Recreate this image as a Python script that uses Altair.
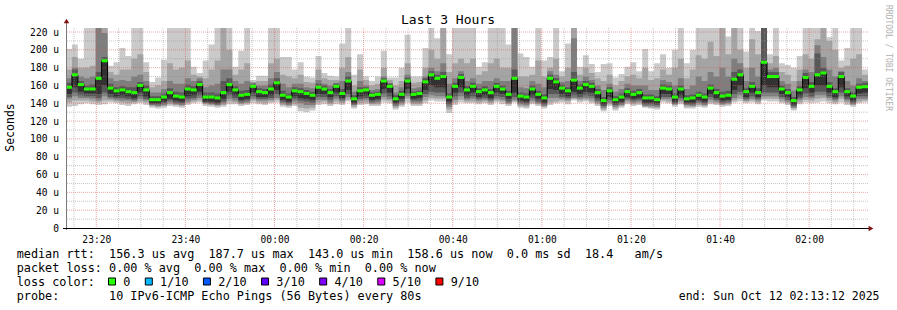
import altair as alt
import pandas as pd

# ---------------- time axis (minutes relative to 00:00) ----------------
START = -46.8          # 23:13:12
END = 133.2            # 02:13:12
STEP = 80 / 60         # one round of pings every 80 s

x_tick_vals = [-40, -20, 0, 20, 40, 60, 80, 100, 120]
x_tick_labels = ["23:20", "23:40", "00:00", "00:20", "00:40", "01:00", "01:20", "01:40", "02:00"]
y_tick_vals = [0, 20, 40, 60, 80, 100, 120, 140, 160, 180, 200, 220]
y_tick_labels = ["0", "20 u", "40 u", "60 u", "80 u", "100 u", "120 u", "140 u",
                 "160 u", "180 u", "200 u", "220 u"]

# ---------------- data (microseconds) ----------------
med = [158,172,161,156,156,168,187.7,157,154,155,
       153,152,160,155,144,144,147,152,148,147,
       156,155,161,147,147,146,152,161,155,149,
       150,159,153,152,156,163,149,147,154,153,
       151,149,158,156,152,159,151,165,145,154,
       155,149,150,165,159,145,150,165,150,151,
       164,172,168,170,147,159,169,155,159,153,
       155,152,159,156,150,168,148,147,156,150,
       146,168,164,157,154,166,157,161,159,152,
       143.0,154,144,147,153,150,152,146,146,144,
       157,156,147,156,145,146,149,147,157,152,
       148,149,167,172,153,159,152,186,170,170,
       156,152,143,155,169,159,172,174,159,153,
       170,153,148,158,158.6]
d_lo = [150,158,153,151,151,150,160,150,148,149,
        148,146,152,148,140,140,142,145,143,142,
        148,149,153,142,142,141,145,153,149,144,
        145,152,147,147,149,155,144,142,148,146,
        145,144,150,150,147,152,146,155,141,148,
        149,144,145,156,152,141,145,156,145,146,
        155,160,158,158,142,152,158,149,152,147,
        149,146,152,150,145,152,143,142,149,145,
        141,156,155,150,148,153,150,153,152,146,
        139,147,140,142,147,145,146,141,141,140,
        150,150,142,149,141,141,144,142,150,146,
        143,144,155,160,147,152,147,160,158,158,
        150,147,139,149,157,152,160,160,152,147,
        158,148,143,151,152]
c_lo = [147,152,149,148,148,146,152,147,146,146,
        145,144,148,145,139,139,140,143,141,140,
        145,146,149,141,140,139,142,149,146,142,
        143,148,145,145,146,150,142,140,145,143,
        142,141,147,147,144,148,144,150,139,145,
        146,142,143,151,148,139,142,151,143,143,
        150,153,152,152,139,148,152,146,148,145,
        146,144,148,147,142,147,141,140,146,142,
        139,150,150,147,146,149,147,149,148,143,
        137,144,138,140,145,143,144,139,139,138,
        147,147,140,146,139,139,142,140,147,144,
        141,142,150,153,145,148,145,152,152,152,
        147,144,137,146,151,148,153,153,148,145,
        152,145,141,148,148]
lo3 = [145,148,146,146,145,143,148,145,144,143,
       143,142,145,143,138,137,138,141,139,138,
       142,144,146,140,139,138,140,145,143,140,
       141,145,143,143,144,146,140,138,142,140,
       138,138,144,144,141,145,142,147,138,143,
       144,140,141,147,145,137,140,148,141,141,
       147,149,148,148,136,144,148,144,145,143,
       144,142,145,144,140,144,139,138,143,140,
       137,146,146,145,144,146,145,146,145,141,
       135,141,136,138,143,141,142,137,137,136,
       145,145,139,143,138,137,140,138,144,142,
       139,140,146,149,143,145,143,148,148,148,
       145,142,135,144,147,146,149,149,146,143,
       148,143,139,145,145]
lo2 = [141,143,143,143,142,141,143,143,142,141,
       140,141,142,141,137,136,137,139,138,137,
       140,142,143,139,138,137,138,142,141,139,
       140,143,141,140,142,144,138,137,139,135,
       134,135,141,142,139,142,140,144,136,140,
       141,139,139,144,143,135,138,145,139,139,
       143,146,145,145,133,141,144,142,142,141,
       142,140,143,142,139,142,137,136,141,139,
       136,141,142,143,142,145,143,144,142,139,
       133,139,134,137,141,139,140,136,135,135,
       143,142,138,141,136,136,138,137,141,140,
       138,139,143,145,142,143,141,145,145,145,
       142,140,134,141,144,143,145,146,143,141,
       145,141,138,142,143]
lo = [136,137,139,140,139,138,139,141,140,138,
      137,139,140,138,135,134,135,137,136,135,
      138,140,141,137,136,135,136,139,139,137,
      138,140,139,138,140,141,136,135,137,131,
      130,132,138,139,137,139,138,142,134,138,
      139,137,137,141,140,133,136,141,137,137,
      140,143,142,142,129,138,141,140,140,139,
      140,138,141,139,137,141,135,134,139,137,
      134,138,140,141,139,143,141,142,140,137,
      131,137,132,135,139,137,138,135,134,133,
      141,140,136,139,134,134,136,135,139,138,
      136,137,141,142,140,141,139,143,142,142,
      140,138,132,139,141,140,141,142,140,139,
      141,138,136,140,141]
c_hi = [163,178,165,160,161,175,192,162,158,159,
        158,158,164,160,148,148,151,157,153,152,
        161,159,165,152,152,151,165,168,159,154,
        155,161,157,156,161,168,154,151,158,157,
        155,153,162,160,156,162,156,170,149,158,
        158,152,153,168,162,149,154,169,153,154,
        168,176,172,175,151,163,173,159,163,157,
        159,156,163,160,154,178,152,151,160,154,
        150,172,168,161,158,175,161,165,163,156,
        147,158,148,151,157,154,156,150,150,148,
        161,160,151,160,149,150,153,151,161,156,
        153,154,175,178,157,164,157,225,175,175,
        160,156,147,159,174,164,196,180,164,157,
        175,157,152,162,163]
hi3 = [168,180,170,168,170,225,219,168,165,166,
       165,170,172,165,152,152,156,165,162,162,
       168,165,168,158,160,162,178,178,165,162,
       165,163,160,160,168,175,162,158,162,162,
       158,157,166,162,160,163,165,175,153,165,
       160,155,156,170,163,152,158,172,157,158,
       170,180,176,185,162,168,176,165,168,162,
       165,165,168,165,165,225,158,157,165,162,
       158,176,172,164,165,213,165,170,166,160,
       155,162,153,156,162,160,160,160,155,155,
       166,164,160,168,156,160,170,165,175,170,
       180,170,190,185,165,180,170,225,178,180,
       165,162,154,165,178,175,205,192,178,170,
       176,165,160,168,165]
hi2 = [178,192,180,180,182,225,225,175,172,178,
       178,190,195,175,158,160,165,185,178,180,
       188,172,170,168,178,188,225,200,172,178,
       185,164,165,165,185,190,172,170,168,172,
       164,163,178,168,166,166,180,192,160,178,
       166,160,162,180,166,160,165,185,163,164,
       180,200,190,225,175,185,190,185,190,172,
       176,185,190,180,180,225,170,170,172,188,
       170,180,190,170,180,225,172,180,174,168,
       165,172,160,165,170,172,168,180,166,168,
       178,172,180,190,168,178,194,190,209,193,
       225,195,225,200,180,212,195,225,185,193,
       175,172,165,178,195,190,212,225,210,200,
       180,182,190,195,172]
hi = [201,206,190,225,225,225,225,182,186,202,
      193,225,225,186,164,169,189,225,225,225,
      225,181,174,188,206,225,225,225,181,199,
      225,166,171,171,225,225,192,192,178,186,
      170,169,193,174,171,170,207,225,172,195,
      170,165,170,199,169,169,180,217,170,170,
      202,225,213,225,195,225,225,225,225,181,
      186,225,225,225,206,225,196,192,181,225,
      188,192,225,176,207,225,181,194,184,175,
      184,185,169,173,181,186,176,201,176,185,
      195,180,200,225,185,200,225,225,225,225,
      225,215,225,225,198,225,221,225,195,225,
      185,183,180,193,225,225,225,225,214,225,
      188,202,225,225,178]

# legend values
rtt_values = ["156.3", "187.7", "143.0", "158.6"]
stat_kinds = ["avg", "max", "min", "now"]
loss_values = ["0.00", "0.00", "0.00", "0.00"]
loss_labels = ["0", "1/10", "2/10", "3/10", "4/10", "5/10", "9/10"]
loss_colors = ["#26ff00", "#00b8ff", "#0059ff", "#5e00ff", "#7e00ff", "#dd00ff", "#ff0000"]
smoke_colors = ["#cacaca", "#a4a4a4", "#7e7e7e", "#585858", "#323232"]

# ---------------- frames ----------------
n = len(med)
t = [START + i * STEP for i in range(n)]
df = pd.DataFrame(dict(t=t, t2=[v + STEP for v in t], med=med, d_lo=d_lo, c_lo=c_lo,
                       lo3=lo3, lo2=lo2, lo=lo, c_hi=c_hi, hi3=hi3, hi2=hi2, hi=hi))
closing = df.iloc[[-1]].copy()
closing["t"] = END
area_df = pd.concat([df, closing], ignore_index=True)

v_minor = pd.DataFrame({"v": [v for v in range(-45, 131, 5) if v % 20 != 0]})
v_major = pd.DataFrame({"v": x_tick_vals})
h_minor = pd.DataFrame({"v": list(range(10, 221, 20))})
h_major = pd.DataFrame({"v": [v for v in y_tick_vals if v > 0]})
one = pd.DataFrame({"a": [0]})

FONT = "DejaVu Sans Mono"
NB = "\u00a0"
W, H = 802, 200
LFS = 11.8            # legend font size
CW = LFS * 0.6021     # legend character advance

def expr_from(vals, labels):
    e = "''"
    for v, lab in reversed(list(zip(vals, labels))):
        e = f"datum.value == {v} ? '{lab}' : ({e})"
    return e

XS = alt.Scale(domain=[START, END], nice=False, zero=False)
YS = alt.Scale(domain=[0, 224.5], nice=False, zero=False)
XAX = alt.Axis(values=x_tick_vals, labelExpr=expr_from(x_tick_vals, x_tick_labels),
               ticks=False, domain=False, grid=False, title=None, labelFont=FONT,
               labelFontSize=9.6, labelColor="#000000", labelPadding=6.5,
               labelBaseline="top", labelFlush=False, labelOverlap=False)
YAX = alt.Axis(values=y_tick_vals, labelExpr=expr_from(y_tick_vals, y_tick_labels),
               ticks=False, domain=False, grid=False, title=None, labelFont=FONT,
               labelFontSize=9.6, labelColor="#000000", labelPadding=7.5,
               labelAlign="right", labelBaseline="middle", labelOverlap=False)

def X(f):
    return alt.X(f"{f}:Q", scale=XS, axis=XAX)

def Y(f):
    return alt.Y(f"{f}:Q", scale=YS, axis=YAX)

layers = []
bands = [("lo", "hi"), ("lo2", "hi2"), ("lo3", "hi3"), ("c_lo", "c_hi"), ("d_lo", "med")]
for (a, b), col in zip(bands, smoke_colors):
    layers.append(alt.Chart(area_df).mark_area(interpolate="step-after", color=col,
                                               clip=True, opacity=1)
                  .encode(x=X("t"), y=Y(a), y2=alt.Y2(b)))

# grid
layers.append(alt.Chart(v_minor).mark_rule(color="#8f8f8f", opacity=0.5, strokeDash=[1, 1],
                                           strokeWidth=1).encode(x=X("v")))
layers.append(alt.Chart(h_minor).mark_rule(color="#8f8f8f", opacity=0.5, strokeDash=[1, 1],
                                           strokeWidth=1).encode(y=Y("v")))
layers.append(alt.Chart(v_major).mark_rule(color="#e05050", opacity=0.5, strokeDash=[1, 1],
                                           strokeWidth=1).encode(x=X("v")))
layers.append(alt.Chart(h_major).mark_rule(color="#e05050", opacity=0.5, strokeDash=[1, 1],
                                           strokeWidth=1).encode(y=Y("v")))

# median
layers.append(alt.Chart(area_df).mark_line(interpolate="step-after", color="#000000",
                                           strokeWidth=1, clip=True)
              .encode(x=X("t"), y=Y("med")))
layers.append(alt.Chart(df).mark_rule(color=loss_colors[0], strokeWidth=3, strokeCap="butt")
              .encode(x=X("t"), x2=alt.X2("t2"), y=Y("med")))

# axis lines and arrows
layers.append(alt.Chart(one).mark_rule(color="#7a7a7a", strokeWidth=1)
              .encode(x=alt.value(0.5), y=alt.value(202), y2=alt.value(-5)))
layers.append(alt.Chart(one).mark_rule(color="#000000", strokeWidth=1)
              .encode(x=alt.value(-3), x2=alt.value(803), y=alt.value(200.5)))
layers.append(alt.Chart(one).mark_point(shape="triangle-up", filled=True, size=30,
                                        color="#7f1010", opacity=1)
              .encode(x=alt.value(0.5), y=alt.value(-7)))
layers.append(alt.Chart(one).mark_point(shape="triangle-right", filled=True, size=30,
                                        color="#7f1010", opacity=1)
              .encode(x=alt.value(805), y=alt.value(200.5)))


def txt(s, px, py, size=LFS, align="left", baseline="alphabetic", angle=0, color="#000000"):
    return (alt.Chart(one)
            .mark_text(text=s.replace(" ", NB), align=align, baseline=baseline, angle=angle,
                       font=FONT, fontSize=size, color=color)
            .encode(x=alt.value(px), y=alt.value(py)))

OX, OY = 66, 28  # plot origin in the page
row1 = "median rtt:  " + "  ".join(f"{v} us {k}" for v, k in zip(rtt_values, stat_kinds)) \
       + "  0.0 ms sd  18.4   am/s"
row2 = "packet loss: " + "  ".join(f"{v} % {k}" for v, k in zip(loss_values, stat_kinds))
row4 = "probe:       10 IPv6-ICMP Echo Pings (56 Bytes) every 80s"

layers.append(txt("Last 3 Hours", 448 - OX, 24 - OY, size=13, align="center"))
layers.append(txt("Seconds", 11 - OX, 127.5 - OY, size=11.5, align="center",
                  baseline="middle", angle=270))
layers.append(txt("RRDTOOL / TOBI OETIKER", 888 - OX, 5 - OY, size=8, align="left",
                  baseline="middle", angle=90, color="#b0b0b0"))
layers.append(txt(row1, 16.7 - OX, 258.3 - OY))
layers.append(txt(row2, 16.7 - OX, 272.3 - OY))
layers.append(txt("loss color:", 16.7 - OX, 286 - OY))
layers.append(txt(row4, 16.7 - OX, 300 - OY))
layers.append(txt("end: Sun Oct 12 02:13:12 2025", 879.5 - OX, 300 - OY, size=11.5,
                  align="right"))

bx = 108.5
for lab, col in zip(loss_labels, loss_colors):
    layers.append(alt.Chart(one).mark_rect(fill=col, stroke="#000000", strokeWidth=1)
                  .encode(x=alt.value(bx - OX), x2=alt.value(bx + 7 - OX),
                          y=alt.value(278 - OY), y2=alt.value(285 - OY)))
    lx = bx + 14.8
    layers.append(txt(lab, lx - OX, 286 - OY))
    bx = lx + len(lab) * CW + 14.9

chart = (alt.layer(*layers)
         .properties(width=W, height=H, background="#ffffff",
                     autosize=alt.AutoSizeParams(type="none"),
                     padding={"left": OX, "top": OY, "right": 897 - OX - W, "bottom": 310 - OY - H})
         .configure_view(stroke=None))

chart.save("out.html", embed_options={"renderer": "svg", "actions": False})
